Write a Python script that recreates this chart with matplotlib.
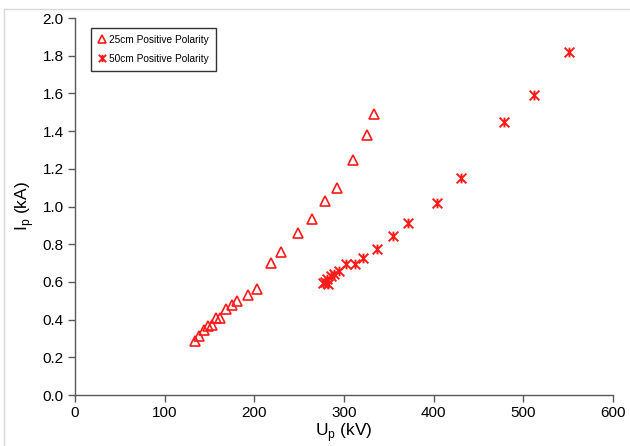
import matplotlib
matplotlib.use("Agg")
import matplotlib.pyplot as plt
from matplotlib.patches import Rectangle
from matplotlib.path import Path

plt.rcParams["font.family"] = ["Liberation Sans", "DejaVu Sans"]

# 25 cm gap, positive polarity
u_25 = [133.8, 137.9, 143.5, 148.0, 152.8, 156.9, 161.3, 168.0, 175.0, 180.7,
        193.3, 203.3, 218.2, 229.4, 249.0, 264.7, 278.5, 292.2, 310.4, 325.6, 333.8]
i_25 = [0.286, 0.315, 0.343, 0.364, 0.371, 0.410, 0.410, 0.456, 0.477, 0.497,
        0.532, 0.564, 0.702, 0.757, 0.858, 0.932, 1.029, 1.100, 1.247, 1.379, 1.489]

# 50 cm gap, positive polarity
u_50 = [276.9, 279.0, 280.6, 282.5, 285.0, 288.8, 294.4, 302.2, 312.3, 320.8,
        336.4, 355.0, 371.7, 403.7, 430.5, 478.7, 512.0, 550.6]
i_50 = [0.596, 0.600, 0.614, 0.589, 0.630, 0.642, 0.660, 0.693, 0.693, 0.725,
        0.773, 0.845, 0.914, 1.020, 1.153, 1.450, 1.592, 1.818]

red = "#ff1a1a"

# Excel-style star: an x with a vertical bar through it
star = Path([(-1, -1), (1, 1), (-1, 1), (1, -1), (0, -1), (0, 1)],
            [Path.MOVETO, Path.LINETO, Path.MOVETO, Path.LINETO,
             Path.MOVETO, Path.LINETO])

fig = plt.figure(figsize=(6.3, 4.46), dpi=100)
ax = fig.add_axes([0.119, 0.1143, 0.854, 0.8453])

ax.plot(u_25, i_25, linestyle="none", marker="^", markersize=7.5,
        markerfacecolor="none", markeredgecolor=red, markeredgewidth=1.2,
        label="25cm Positive Polarity")
ax.plot(u_50, i_50, linestyle="none", marker=star, markersize=7,
        markeredgecolor=red, markeredgewidth=1.4, color=red,
        label="50cm Positive Polarity")

ax.set_xlim(0, 600)
ax.set_ylim(0, 2.0)
ax.set_xticks(range(0, 601, 100))
ax.set_yticks([i / 10 for i in range(0, 21, 2)])
ax.set_yticklabels([f"{i / 10:.1f}" for i in range(0, 21, 2)])

for s in ["top", "right"]:
    ax.spines[s].set_visible(False)
for s in ["left", "bottom"]:
    ax.spines[s].set_color("#595959")
    ax.spines[s].set_linewidth(1.0)
ax.tick_params(direction="out", length=5, width=1, color="#595959",
               labelsize=11, pad=3)
ax.set_xlabel("U$_\\mathregular{p}$ (kV)", fontsize=12.5, labelpad=1)
ax.set_ylabel("I$_\\mathregular{p}$ (kA)", fontsize=12.5, labelpad=5)

leg = ax.legend(loc="upper left", bbox_to_anchor=(0.02, 0.988), fontsize=7.3,
                frameon=True, fancybox=False, handlelength=0.8,
                handletextpad=0.3, borderpad=0.7, labelspacing=0.9,
                markerscale=0.75)
leg.get_frame().set_edgecolor("black")
leg.get_frame().set_linewidth(1.0)

fig.patches.append(Rectangle((4 / 630, -0.01), 1.0, 1 - 9 / 446 + 0.01,
                             transform=fig.transFigure, fill=False,
                             edgecolor="#d9d9d9", linewidth=1.0))

fig.savefig("out.png", dpi=100)
